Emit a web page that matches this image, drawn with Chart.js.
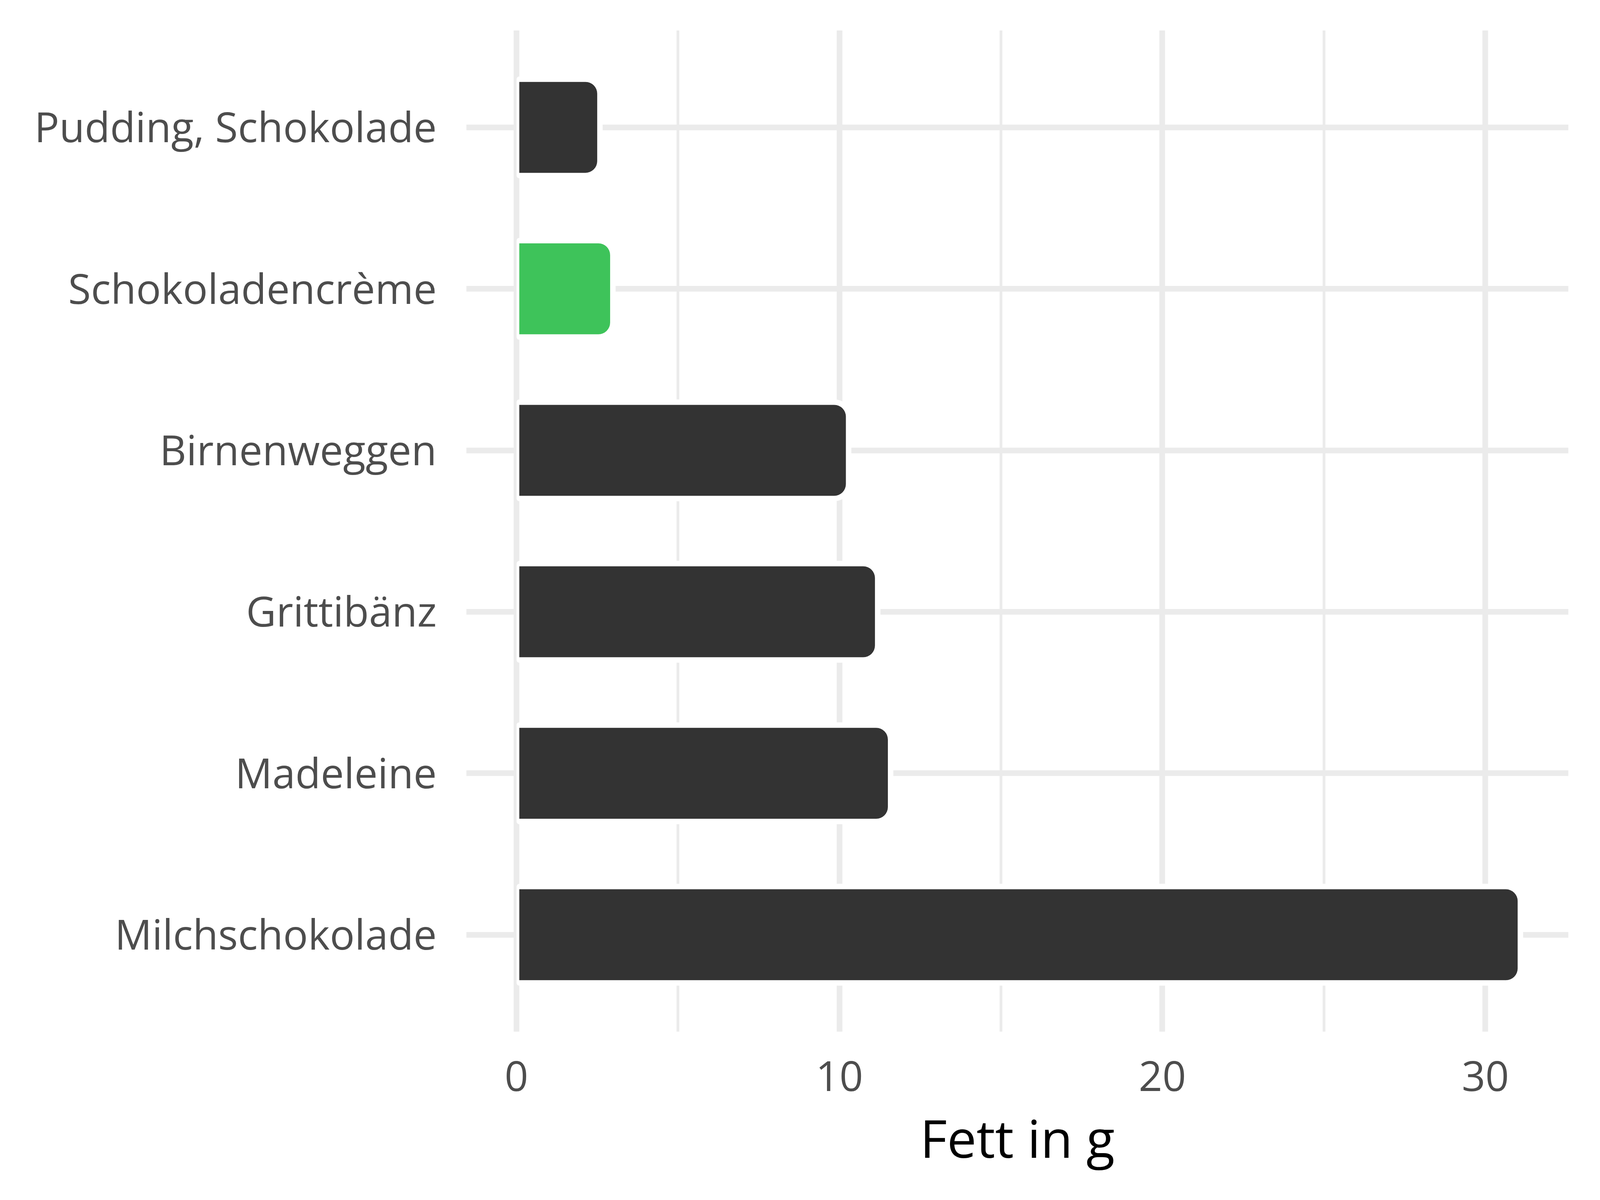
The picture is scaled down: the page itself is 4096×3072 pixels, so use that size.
<!DOCTYPE html>
<html>
<head>
<meta charset="utf-8">
<script src="https://cdn.jsdelivr.net/npm/chart.js@4/dist/chart.umd.min.js"></script>
<style>
  html, body { margin: 0; padding: 0; background: #ffffff; }
  canvas { display: block; }
</style>
</head>
<body>
<canvas id="c" width="4096" height="3072"></canvas>
<script>
const categories = ['Pudding, Schokolade', 'Schokoladencrème', 'Birnenweggen', 'Grittibänz', 'Madeleine', 'Milchschokolade'];
const fatValues = [2.5, 2.9, 10.2, 11.1, 11.5, 31.0];
const barColors = ['#333333', '#3EC35A', '#333333', '#333333', '#333333', '#333333'];
const xTickValues = [0, 5, 10, 15, 20, 25, 30];
const xTickLabels = ['0', '', '10', '', '20', '', '30'];
const axisTitle = 'Fett in g';

const GRID = '#EBEBEB';

const haloPlugin = {
  id: 'halo',
  beforeDatasetsDraw(chart) {
    const ctx = chart.ctx;
    const meta = chart.getDatasetMeta(0);
    ctx.save();
    ctx.fillStyle = '#ffffff';
    meta.data.forEach(bar => {
      const p = bar.getProps(['x', 'y', 'base', 'height'], true);
      const left = Math.min(p.base, p.x) - 7;
      const right = Math.max(p.base, p.x) + 14;
      const top = p.y - p.height / 2 - 14;
      const h = p.height + 28;
      ctx.beginPath();
      ctx.roundRect(left, top, right - left, h, [7, 44, 44, 7]);
      ctx.fill();
    });
    ctx.restore();
  }
};

new Chart(document.getElementById('c'), {
  type: 'bar',
  data: {
    datasets: [{
      data: categories.map((c, i) => ({ x: fatValues[i], y: i })),
      backgroundColor: barColors,
      borderWidth: 0,
      borderRadius: 30,
      barPercentage: 0.563,
      categoryPercentage: 1
    }]
  },
  options: {
    indexAxis: 'y',
    responsive: false,
    animation: false,
    devicePixelRatio: 1,
    layout: { padding: { left: 0, right: 81, top: 78, bottom: 0 } },
    plugins: { legend: { display: false }, tooltip: { enabled: false } },
    scales: {
      x: {
        type: 'linear',
        min: -1.55,
        max: 32.57,
        afterBuildTicks: s => { s.ticks = xTickValues.map(v => ({ value: v })); },
        afterFit: s => { s.height = 3072 - 2641; s.paddingLeft = 0; s.paddingRight = 0; },
        grid: {
          color: GRID,
          lineWidth: c => (c.tick && c.tick.value % 10 === 0) ? 14.5 : 7,
          drawTicks: false
        },
        border: { display: false },
        ticks: {
          padding: 58,
          color: '#4D4D4D',
          font: { family: 'Open Sans', size: 106 },
          callback: (v, i) => xTickLabels[i]
        },
        title: {
          display: true,
          text: axisTitle,
          color: '#000000',
          font: { family: 'Open Sans', size: 134 },
          padding: { top: 0, bottom: 66 }
        }
      },
      y: {
        type: 'linear',
        reverse: true,
        offset: false,
        min: -0.6,
        max: 5.6,
        afterBuildTicks: s => { s.ticks = categories.map((c, i) => ({ value: i })); },
        afterFit: s => { s.width = 1194; s.paddingTop = 0; s.paddingBottom = 0; },
        grid: { color: GRID, lineWidth: 14.5, drawTicks: false, offset: false },
        border: { display: false },
        ticks: {
          padding: 76,
          labelOffset: 8,
          color: '#4D4D4D',
          font: { family: 'Open Sans', size: 106 },
          callback: (v) => categories[v]
        }
      }
    }
  },
  plugins: [haloPlugin]
});
</script>
</body>
</html>
